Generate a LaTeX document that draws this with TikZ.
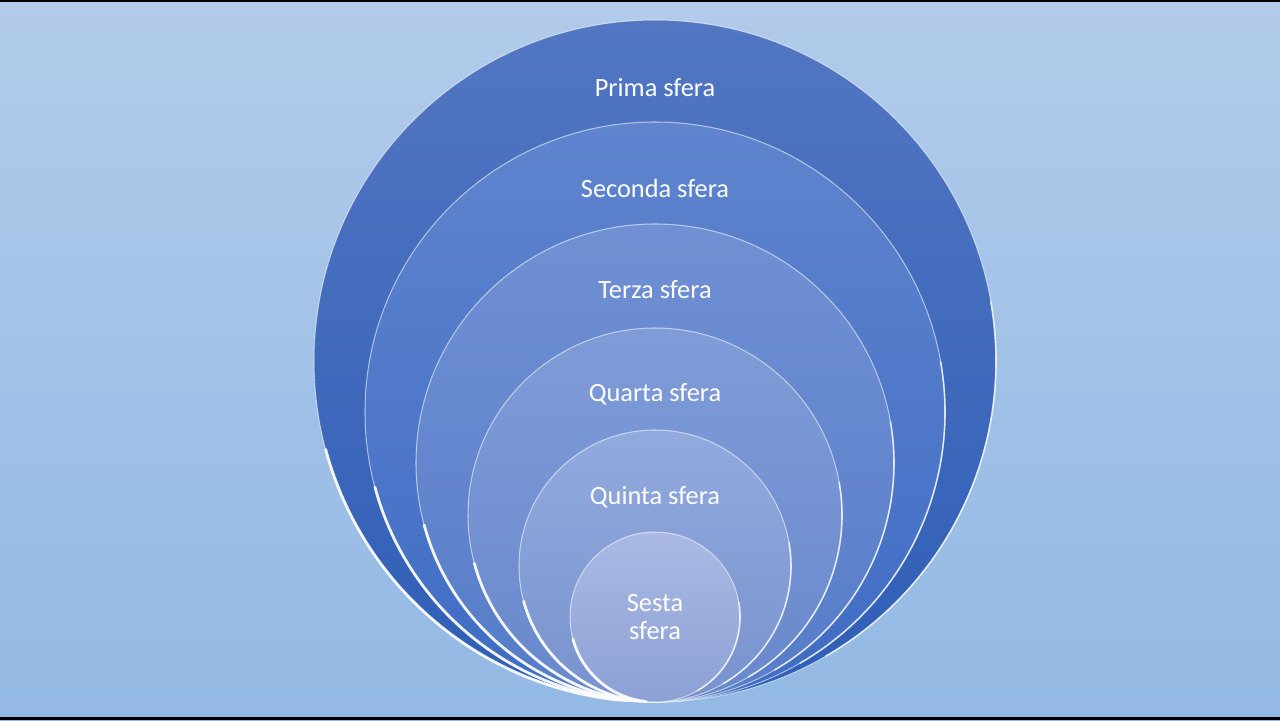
\documentclass[tikz,border=0pt]{standalone}
\usepackage{fontspec}
\setmainfont{Carlito}
\usetikzlibrary{positioning}

\definecolor{bgtop}{RGB}{178,203,234}
\definecolor{bgbot}{RGB}{146,185,228}
\definecolor{sfAtop}{RGB}{82,118,194}
\definecolor{sfAbot}{RGB}{46,94,182}
\definecolor{sfBtop}{RGB}{96,132,206}
\definecolor{sfBbot}{RGB}{62,108,196}
\definecolor{sfCtop}{RGB}{112,144,212}
\definecolor{sfCbot}{RGB}{86,124,200}
\definecolor{sfDtop}{RGB}{128,156,216}
\definecolor{sfDbot}{RGB}{104,136,204}
\definecolor{sfEtop}{RGB}{146,170,222}
\definecolor{sfEbot}{RGB}{120,146,206}
\definecolor{sfFtop}{RGB}{170,186,228}
\definecolor{sfFbot}{RGB}{140,160,212}

\tikzset{
  sphere/.style={circle, inner sep=0pt, outer sep=0pt, draw=white, draw opacity=0.55, line width=0.6pt},
  rim/.style={white, line width=1.6pt, line cap=round, opacity=0.9},
  sflabel/.style={text=white, font=\fontsize{15}{16}\selectfont, align=center, inner sep=0pt}
}

\begin{document}
\begin{tikzpicture}[x=0.02cm, y=-0.02cm]
    \useasboundingbox (0,0) rectangle (1280,720);
    \shade[top color=bgtop, bottom color=bgbot] (0,0) rectangle (1280,720);
    \fill[black] (0,0) rectangle (1280,2);
    \fill[black] (0,717) rectangle (1280,720);

    % nested spheres, all touching at the bottom
    \foreach \r/\c/\n in {341/sfA/1, 290/sfB/2, 239/sfC/3, 187/sfD/4, 136/sfE/5, 85/sfF/6}{
        \node[sphere, minimum size={2*\r*0.02cm}, top color=\c top, bottom color=\c bot]
            (s\n) at (655, 702-\r) {};
        \draw[rim] (s\n.195) arc[start angle=195, end angle=264, radius={\r*0.02cm}];
        \draw[rim, line width=0.9pt, opacity=0.7] (s\n.300) arc[start angle=300, end angle=370, radius={\r*0.02cm}];
    }

    \node[sflabel] (t1) at (655,88) {Prima sfera};
    \node[sflabel] (t2) at (655,188) {Seconda sfera};
    \node[sflabel] (t3) at (655,290) {Terza sfera};
    \node[sflabel] (t4) at (655,394) {Quarta sfera};
    \node[sflabel] (t5) at (655,497) {Quinta sfera};
    \node[sflabel] (t6) at (s6) {Sesta\\sfera};
\end{tikzpicture}
\end{document}
